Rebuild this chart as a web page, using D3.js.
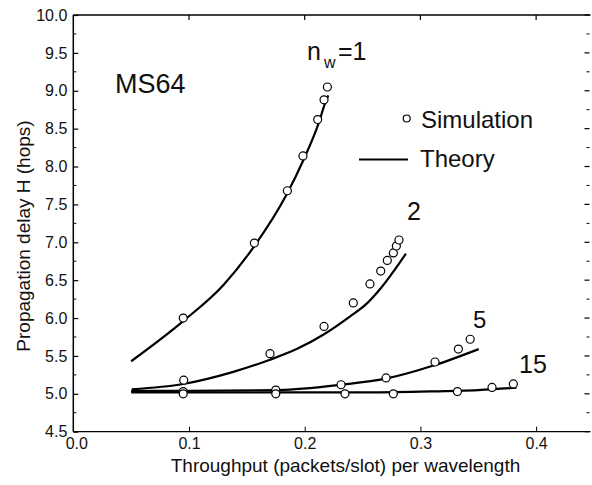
<!DOCTYPE html>
<html><head><meta charset="utf-8">
<script src="https://cdn.jsdelivr.net/npm/d3@7"></script>
<style>
html,body{margin:0;padding:0;background:#fff;}
svg{display:block;font-family:"Liberation Sans",Arial,Helvetica,sans-serif;}
</style></head>
<body><svg id="c" width="592" height="485"></svg>
<script>
// ---- data ----
const sim1X = [0.095, 0.1565, 0.185, 0.1985, 0.2112, 0.2167, 0.2196];
const sim1Y = [6.00, 6.99, 7.68, 8.14, 8.62, 8.88, 9.05];
const theory1X = [0.050, 0.095, 0.130, 0.156, 0.184, 0.199, 0.212, 0.2175, 0.2204];
const theory1Y = [5.43, 5.96, 6.44, 6.94, 7.62, 8.09, 8.57, 8.83, 8.94];

const sim2X = [0.0954, 0.170, 0.2167, 0.242, 0.2564, 0.2657, 0.2714, 0.2766, 0.2792, 0.2815];
const sim2Y = [5.18, 5.53, 5.89, 6.20, 6.45, 6.62, 6.76, 6.86, 6.95, 7.03];
const theory2X = [0.0505, 0.095, 0.1383, 0.170, 0.193, 0.216, 0.239, 0.2536, 0.265, 0.2875];
const theory2Y = [5.06, 5.13, 5.29, 5.45, 5.59, 5.78, 6.02, 6.19, 6.38, 6.85];

const sim5X = [0.095, 0.175, 0.2314, 0.2703, 0.3126, 0.3328, 0.343];
const sim5Y = [5.03, 5.05, 5.12, 5.21, 5.42, 5.59, 5.72];
const theory5X = [0.050, 0.100, 0.178, 0.2314, 0.270, 0.3126, 0.3504];
const theory5Y = [5.04, 5.04, 5.05, 5.12, 5.20, 5.38, 5.59];

const sim15X = [0.095, 0.175, 0.2348, 0.2766, 0.332, 0.3619, 0.3803];
const sim15Y = [5.00, 5.00, 5.00, 5.00, 5.03, 5.085, 5.13];
const theory15X = [0.050, 0.150, 0.250, 0.300, 0.350, 0.383];
const theory15Y = [5.02, 5.02, 5.02, 5.03, 5.05, 5.08];

const xTicks = [0.0, 0.1, 0.2, 0.3, 0.4];
const yTicks = [4.5, 5.0, 5.5, 6.0, 6.5, 7.0, 7.5, 8.0, 8.5, 9.0, 9.5, 10.0];
const seriesLabels = ["1", "2", "5", "15"];

// ---- chart ----
const svg = d3.select("#c");
const x = d3.scaleLinear().domain([0, 0.447]).range([73.3, 590.5]);
const y = d3.scaleLinear().domain([4.5, 10.0]).range([431.7, 15]);
const font = '"Liberation Sans",Arial,Helvetica,sans-serif';

// frame: left, bottom, top
svg.append("line").attr("x1", x(0)).attr("x2", x(0)).attr("y1", y(10)).attr("y2", y(4.5)).attr("stroke", "#000").attr("stroke-width", 1.5);
svg.append("line").attr("x1", x(0)).attr("x2", x.range()[1]).attr("y1", y(4.5)).attr("y2", y(4.5)).attr("stroke", "#000").attr("stroke-width", 1.3);
svg.append("line").attr("x1", x(0)).attr("x2", x.range()[1]).attr("y1", y(10)).attr("y2", y(10)).attr("stroke", "#000").attr("stroke-width", 1.3);

// left axis
const yAxis = d3.axisLeft(y).tickValues(yTicks).tickFormat(d3.format(".1f")).tickSizeInner(-5).tickSizeOuter(0).tickPadding(6);
const gy = svg.append("g").attr("transform", `translate(${x(0)},0)`).call(yAxis);
gy.select(".domain").remove();
gy.selectAll("text").attr("font-size", 16).attr("font-family", font).attr("fill", "#111");
gy.selectAll(".tick line").attr("stroke-width", 1.2);

// minor y ticks on left and right
const yMinor = d3.range(4.75, 10, 0.5);
svg.append("g").selectAll("line").data(yMinor).join("line")
  .attr("x1", x(0)).attr("x2", x(0) + 3).attr("y1", d => y(d)).attr("y2", d => y(d)).attr("stroke", "#000");
const xr = x.range()[1] - 1;
svg.append("g").selectAll("line").data(yTicks).join("line")
  .attr("x1", xr).attr("x2", xr - 5).attr("y1", d => y(d)).attr("y2", d => y(d)).attr("stroke", "#000").attr("stroke-width", 1.2);
svg.append("g").selectAll("line").data(yMinor).join("line")
  .attr("x1", xr).attr("x2", xr - 3).attr("y1", d => y(d)).attr("y2", d => y(d)).attr("stroke", "#000");

// bottom axis
const xAxis = d3.axisBottom(x).tickValues(xTicks).tickFormat(d3.format(".1f")).tickSizeInner(-5).tickSizeOuter(0).tickPadding(6);
const gx = svg.append("g").attr("transform", `translate(0,${y(4.5)})`).call(xAxis);
gx.select(".domain").remove();
gx.selectAll("text").attr("font-size", 16).attr("font-family", font).attr("fill", "#111");
gx.selectAll(".tick").filter(d => d === 0).select("text").attr("dx", 3);
gx.selectAll(".tick").filter(d => d === 0).select("line").remove();

// top ticks
svg.append("g").selectAll("line").data(xTicks.slice(1)).join("line")
  .attr("x1", d => x(d)).attr("x2", d => x(d)).attr("y1", y(10)).attr("y2", y(10) + 5).attr("stroke", "#000").attr("stroke-width", 1.2);

// axis titles
svg.append("text").attr("x", (168 + 523) / 2).attr("y", 472).attr("text-anchor", "middle")
  .attr("font-size", 19).attr("fill", "#111").text("Throughput (packets/slot) per wavelength");
svg.append("text").attr("transform", "translate(30,236) rotate(-90)").attr("text-anchor", "middle")
  .attr("font-size", 19).attr("fill", "#111").text("Propagation delay H (hops)");

// theory lines
const line = d3.line().x(d => x(d[0])).y(d => y(d[1])).curve(d3.curveMonotoneX);
const theory = [[theory1X, theory1Y], [theory2X, theory2Y], [theory5X, theory5Y], [theory15X, theory15Y]];
theory.forEach(([tx, ty]) => {
  svg.append("path").datum(tx.map((v, i) => [v, ty[i]])).attr("d", line)
    .attr("fill", "none").attr("stroke", "#000").attr("stroke-width", 2.2);
});

// simulation points
const sims = [[sim1X, sim1Y], [sim2X, sim2Y], [sim5X, sim5Y], [sim15X, sim15Y]];
sims.forEach(([sx, sy]) => {
  svg.append("g").selectAll("circle").data(sx.map((v, i) => [v, sy[i]])).join("circle")
    .attr("cx", d => x(d[0])).attr("cy", d => y(d[1])).attr("r", 4)
    .attr("fill", "#fff").attr("stroke", "#000").attr("stroke-width", 1.2);
});

// annotations
svg.append("text").attr("x", 115).attr("y", 93).attr("font-size", 27).attr("fill", "#111").text("MS64");
const nw = svg.append("text").attr("font-size", 25).attr("fill", "#111");
nw.append("tspan").attr("x", 307).attr("y", 60).text("n");
nw.append("tspan").attr("x", 324).attr("y", 68).attr("font-size", 16).text("w");
nw.append("tspan").attr("x", 338).attr("y", 60).text("=" + seriesLabels[0]);
svg.append("text").attr("x", 407).attr("y", 220).attr("font-size", 25).attr("fill", "#111").text(seriesLabels[1]);
svg.append("text").attr("x", 473).attr("y", 328).attr("font-size", 24).attr("fill", "#111").text(seriesLabels[2]);
svg.append("text").attr("x", 519).attr("y", 373).attr("font-size", 25).attr("fill", "#111").text(seriesLabels[3]);

// legend
svg.append("circle").attr("cx", 406.7).attr("cy", 118.5).attr("r", 3.5).attr("fill", "#fff").attr("stroke", "#000").attr("stroke-width", 1.2);
svg.append("text").attr("x", 421).attr("y", 128).attr("font-size", 24).attr("fill", "#111").text("Simulation");
svg.append("line").attr("x1", 359).attr("x2", 408).attr("y1", 159.5).attr("y2", 159.5).attr("stroke", "#000").attr("stroke-width", 2.2);
svg.append("text").attr("x", 420).attr("y", 167).attr("font-size", 24).attr("fill", "#111").text("Theory");
</script></body></html>
